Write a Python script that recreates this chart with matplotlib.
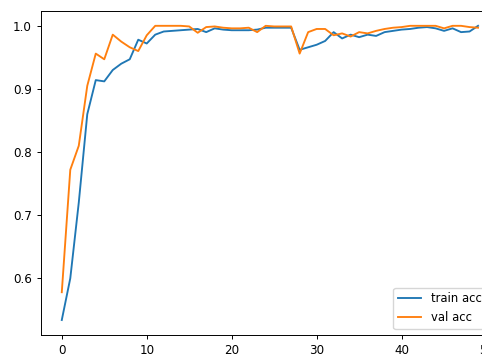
import matplotlib
matplotlib.use("Agg")
import matplotlib.pyplot as plt
import numpy as np

epochs = list(range(50))
train_acc = [0.534, 0.600, 0.720, 0.860, 0.914, 0.912, 0.930, 0.940, 0.947, 0.978,
             0.972, 0.986, 0.991, 0.992, 0.993, 0.994, 0.995, 0.990, 0.996, 0.994,
             0.993, 0.993, 0.993, 0.994, 0.997, 0.997, 0.997, 0.997, 0.962, 0.966,
             0.970, 0.976, 0.990, 0.980, 0.986, 0.982, 0.986, 0.984, 0.990, 0.992,
             0.994, 0.995, 0.997, 0.998, 0.996, 0.992, 0.996, 0.990, 0.991, 1.000]
val_acc = [0.578, 0.772, 0.810, 0.905, 0.956, 0.947, 0.986, 0.975, 0.966, 0.960,
           0.985, 1.000, 1.000, 1.000, 1.000, 0.999, 0.989, 0.998, 0.999, 0.997,
           0.996, 0.996, 0.997, 0.990, 1.000, 0.999, 0.999, 0.999, 0.956, 0.990,
           0.995, 0.995, 0.985, 0.988, 0.983, 0.990, 0.988, 0.992, 0.995, 0.997,
           0.998, 1.000, 1.000, 1.000, 1.000, 0.996, 1.000, 1.000, 0.998, 0.997]
labels = ["train acc", "val acc"]

fig = plt.figure(figsize=(4.82, 3.56), dpi=100)
ax = fig.add_axes([0.085, 0.0598, 0.950, 0.909])
ax.plot(epochs, train_acc, color="tab:blue", lw=1.35, label=labels[0])
ax.plot(epochs, val_acc, color="tab:orange", lw=1.35, label=labels[1])
ax.tick_params(labelsize=8.6, length=3.2, width=0.7)
for s in ax.spines.values():
    s.set_linewidth(0.7)
ax.legend(loc="lower right", fontsize=8.4, bbox_to_anchor=(0.985, 0.0))
fig.savefig("out.png", dpi=100)
